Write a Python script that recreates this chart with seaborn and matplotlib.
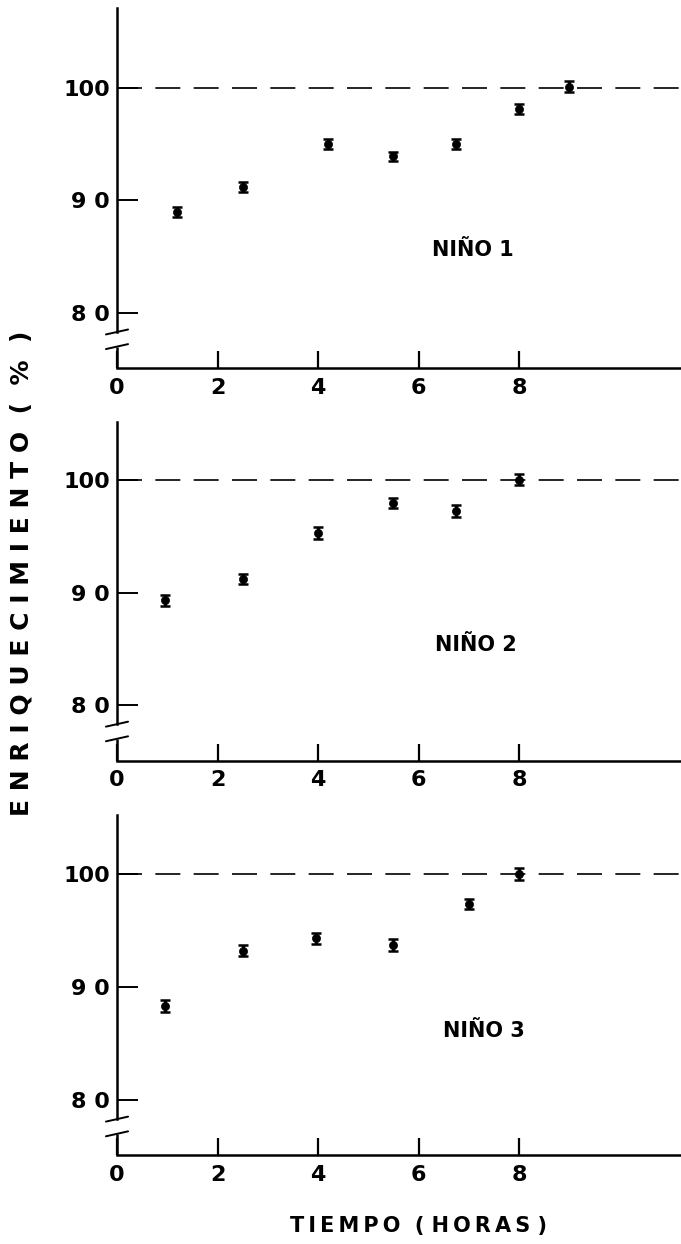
import numpy as np
import pandas as pd
import matplotlib
matplotlib.use("Agg")
import matplotlib.pyplot as plt
import seaborn as sns

# tiempo (horas) y enriquecimiento (%) por niño
t1 = [1.2, 2.5, 4.2, 5.5, 6.75, 8.0, 9.0]
e1 = [89.0, 91.2, 95.0, 93.9, 95.0, 98.1, 100.1]
err1 = [0.45, 0.45, 0.45, 0.4, 0.45, 0.45, 0.5]

t2 = [0.95, 2.5, 4.0, 5.5, 6.75, 8.0]
e2 = [89.3, 91.2, 95.3, 98.0, 97.25, 100.05]
err2 = [0.45, 0.45, 0.5, 0.45, 0.5, 0.5]

t3 = [0.95, 2.5, 3.95, 5.5, 7.0, 8.0]
e3 = [88.3, 93.2, 94.3, 93.7, 97.3, 100.0]
err3 = [0.5, 0.5, 0.5, 0.5, 0.45, 0.55]

labels = ["NIÑO 1", "NIÑO 2", "NIÑO 3"]
label_pos = [(7.07, 85.6), (7.14, 85.3), (7.3, 86.1)]
ylims = [(75.1, 107.1), (75.05, 105.2), (75.1, 105.2)]
yticks = [80, 90, 100]
ytick_labels = ["8 0", "9 0", "100"]
xticks = [0, 2, 4, 6, 8]

sns.set_style("ticks")
plt.rcParams["font.family"] = ["DejaVu Sans"]
plt.rcParams["font.weight"] = "bold"
for k in ["text.color", "axes.labelcolor", "xtick.color", "ytick.color",
          "axes.edgecolor"]:
    plt.rcParams[k] = "black"

TS = "\u2009"  # thin space, for the wide lettering of the original

fig = plt.figure(figsize=(6.81, 12.44), dpi=100)
# [left, bottom, width, height] in figure fractions
boxes = [
    [0.1718, 0.7042, 0.8267, 0.2894],
    [0.1718, 0.3885, 0.8267, 0.2725],
    [0.1718, 0.0713, 0.8267, 0.2736],
]

datasets = [(t1, e1, err1), (t2, e2, err2), (t3, e3, err3)]
for i, (t, e, err) in enumerate(datasets):
    ax = fig.add_axes(boxes[i])
    df = pd.DataFrame({"t": t, "e": e, "err": err})

    ax.axhline(100, color="black", lw=1.2, ls=(0, (15, 8)), zorder=1)
    ax.errorbar(df["t"], df["e"], yerr=df["err"], fmt="none", ecolor="black",
                elinewidth=2.4, capsize=3.5, capthick=1.8, zorder=2)
    sns.scatterplot(data=df, x="t", y="e", ax=ax, color="black", s=34,
                    edgecolor="black", linewidth=0.5, zorder=3, legend=False)

    ylo, yhi = ylims[i]
    ax.set_xlim(0, 11.2)
    ax.set_ylim(ylo, yhi)
    ax.set_xticks(xticks)
    ax.set_xticklabels([str(v) for v in xticks])
    ax.set_yticks(yticks)
    ax.set_yticklabels(ytick_labels)
    ax.set_xlabel("")
    ax.set_ylabel("")

    ax.tick_params(axis="y", direction="in", length=15, width=1.4,
                   labelsize=16, pad=5)
    ax.tick_params(axis="x", direction="in", length=12, width=1.6,
                   labelsize=16, pad=7)

    sns.despine(ax=ax)
    ax.spines["bottom"].set_linewidth(1.8)
    # broken y axis
    brk_hi, brk_lo = 78.3, 77.0
    ax.spines["left"].set_bounds(brk_hi, yhi)
    ax.spines["left"].set_linewidth(1.8)
    ax.plot([0, 0], [ylo, brk_lo], color="black", lw=1.8, clip_on=False,
            solid_capstyle="butt")
    for yb in (brk_hi, brk_lo):
        ax.plot([-0.22, 0.22], [yb - 0.22, yb + 0.22], color="black",
                lw=1.4, clip_on=False)

    ax.text(label_pos[i][0], label_pos[i][1], labels[i], ha="center",
            va="center", fontsize=15, fontweight="bold")

fig.text(0.032, 0.539, "E N R I Q U E C I M I E N T O  (  %  )",
         rotation=90, ha="center", va="center", fontsize=18,
         fontweight="bold")
fig.text(0.614, 0.0145, TS.join("TIEMPO") + "  ( " + TS.join("HORAS") + " )",
         ha="center", va="center", fontsize=15, fontweight="bold")

fig.savefig("out.png", dpi=100)
